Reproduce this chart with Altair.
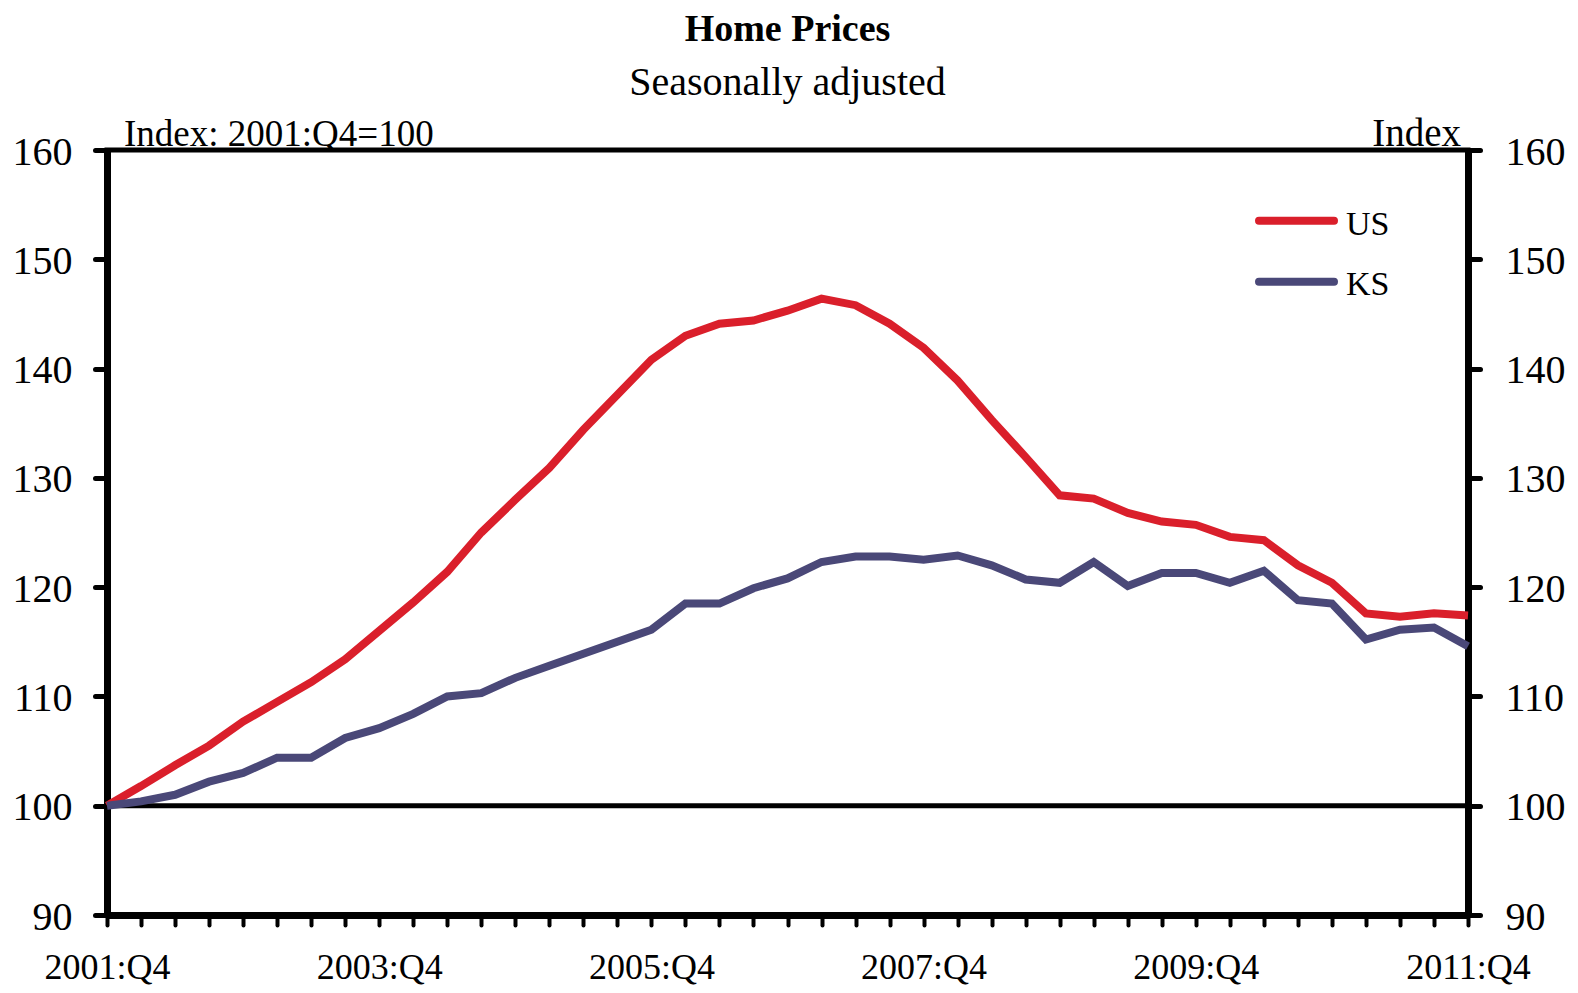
import json
import altair as alt
import pandas as pd

quarters = [
    "2001:Q4",
    "2002:Q1", "2002:Q2", "2002:Q3", "2002:Q4",
    "2003:Q1", "2003:Q2", "2003:Q3", "2003:Q4",
    "2004:Q1", "2004:Q2", "2004:Q3", "2004:Q4",
    "2005:Q1", "2005:Q2", "2005:Q3", "2005:Q4",
    "2006:Q1", "2006:Q2", "2006:Q3", "2006:Q4",
    "2007:Q1", "2007:Q2", "2007:Q3", "2007:Q4",
    "2008:Q1", "2008:Q2", "2008:Q3", "2008:Q4",
    "2009:Q1", "2009:Q2", "2009:Q3", "2009:Q4",
    "2010:Q1", "2010:Q2", "2010:Q3", "2010:Q4",
    "2011:Q1", "2011:Q2", "2011:Q3", "2011:Q4",
]

us = [100.0, 101.8, 103.7, 105.5, 107.7, 109.5, 111.3, 113.4, 116.0, 118.6,
      121.4, 125.0, 128.0, 130.9, 134.4, 137.6, 140.8, 143.0, 144.1, 144.4,
      145.3, 146.4, 145.8, 144.1, 141.9, 138.9, 135.3, 131.9, 128.4, 128.1,
      126.8, 126.0, 125.7, 124.6, 124.3, 122.0, 120.4, 117.6, 117.3, 117.6,
      117.4]

ks = [100.0, 100.4, 101.0, 102.2, 103.0, 104.4, 104.4, 106.2, 107.1, 108.4,
      110.0, 110.3, 111.7, 112.8, 113.9, 115.0, 116.1, 118.5, 118.5, 119.9,
      120.8, 122.3, 122.8, 122.8, 122.5, 122.9, 122.0, 120.7, 120.4, 122.3,
      120.1, 121.3, 121.3, 120.4, 121.5, 118.8, 118.5, 115.2, 116.1, 116.3,
      114.6]

series = ["US", "KS"]
colors = ["#DA1F2B", "#4A4878"]

x_tick_labels = ["2001:Q4", "2003:Q4", "2005:Q4", "2007:Q4", "2009:Q4", "2011:Q4"]
y_ticks = [90, 100, 110, 120, 130, 140, 150, 160]
baseline_value = [100]

FONT = "Liberation Serif"
W, H = 1361, 765

rows = []
for name, vals in zip(series, [us, ks]):
    for q, v in zip(quarters, vals):
        rows.append({"quarter": q, "series": name, "value": v})
df = pd.DataFrame(rows)

yscale = alt.Scale(domain=[90, 160], nice=False, zero=False)

axis_common = dict(
    values=y_ticks, grid=False, title=None,
    domainColor="black", domainWidth=7,
    tickColor="black", tickWidth=5, tickSize=12, tickCap="round",
    labelFont=FONT, labelFontSize=40, labelColor="black",
    labelOffset=2,
)

left_axis = alt.Axis(orient="left", labelPadding=23, **axis_common)
right_axis = alt.Axis(orient="right", labelPadding=25, labelAlign="left", **axis_common)

label_expr = "indexof(" + json.dumps(x_tick_labels) + ", datum.label) >= 0 ? datum.label : ''"
x_axis = alt.Axis(
    orient="bottom", title=None, grid=False,
    domainColor="black", domainWidth=7,
    tickColor="black", tickWidth=4, tickSize=10, tickCap="round",
    labelFont=FONT, labelFontSize=36, labelColor="black",
    labelExpr=label_expr, labelOverlap=False, labelAngle=0,
    labelPadding=25, labelFlush=False,
)

rule = alt.Chart(pd.DataFrame({"v": baseline_value})).mark_rule(
    color="black", strokeWidth=5
).encode(y=alt.Y("v:Q", scale=yscale, axis=right_axis))

lines = alt.Chart(df).mark_line(strokeWidth=8).encode(
    x=alt.X("quarter:O", sort=quarters,
            scale=alt.Scale(type="point", padding=0), axis=x_axis),
    y=alt.Y("value:Q", scale=yscale, axis=left_axis),
    color=alt.Color("series:N", scale=alt.Scale(domain=series, range=colors), legend=None),
    order=alt.value(0),
)

note_left = alt.Chart(pd.DataFrame({"t": ["Index: 2001:Q4=100"]})).mark_text(
    font=FONT, fontSize=37, align="left", baseline="alphabetic", color="black"
).encode(text="t:N", x=alt.value(17), y=alt.value(-4))

note_right = alt.Chart(pd.DataFrame({"t": ["Index"]})).mark_text(
    font=FONT, fontSize=39, align="right", baseline="alphabetic", color="black"
).encode(text="t:N", x=alt.value(1354), y=alt.value(-4))

legend_layers = []
for i, (name, col) in enumerate(zip(series, colors)):
    ldf = pd.DataFrame({"series": [name]})
    legend_layers.append(
        alt.Chart(ldf).mark_rule(strokeWidth=8, strokeCap="round", color=col).encode(
            x=alt.value(1152), x2=alt.value(1227), y=alt.value(70.7 + 61 * i)
        )
    )
    legend_layers.append(
        alt.Chart(ldf).mark_text(
            font=FONT, fontSize=34, align="left", baseline="alphabetic", color="black"
        ).encode(text="series:N", x=alt.value(1239), y=alt.value(85 + 60 * i))
    )

chart = alt.layer(rule, lines, note_left, note_right, *legend_layers).resolve_scale(
    y="independent"
).properties(
    width=W, height=H,
    background="white",
    title=alt.TitleParams(
        text="Home Prices", subtitle="Seasonally adjusted",
        font=FONT, fontSize=38, fontWeight="bold", color="black",
        subtitleFont=FONT, subtitleFontSize=40, subtitleColor="black",
        anchor="middle", frame="group", offset=12, subtitlePadding=14,
    ),
    autosize=alt.AutoSizeParams(type="none"),
    padding={"left": 99, "top": 142, "right": 102, "bottom": 70},
).configure_view(stroke="black", strokeWidth=5)

chart.save("out.html", embed_options={"renderer": "svg", "actions": False})
